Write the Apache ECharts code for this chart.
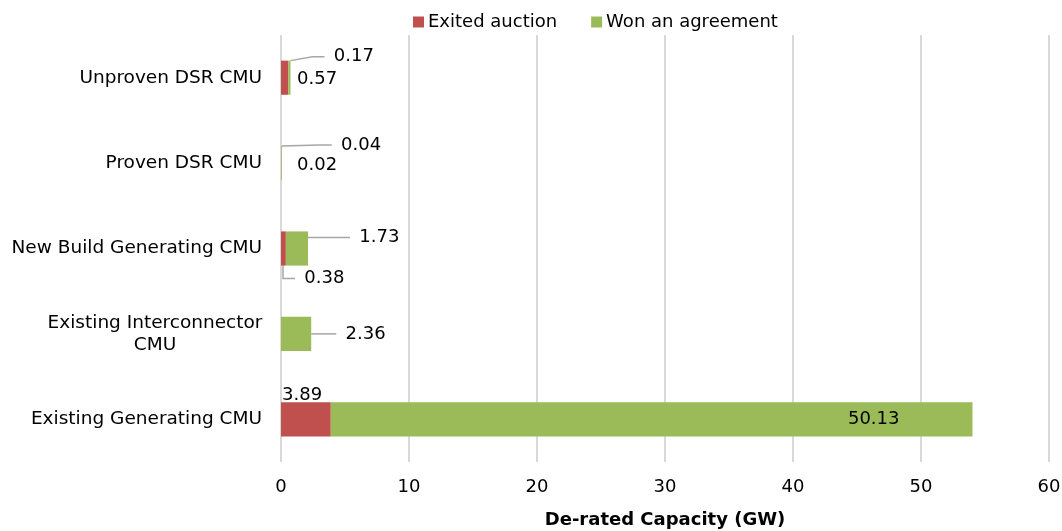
<!DOCTYPE html>
<html>
<head>
<meta charset="utf-8">
<script src="https://cdn.jsdelivr.net/npm/echarts@6/dist/echarts.min.js"></script>
<style>
  html, body { margin: 0; padding: 0; background: #fff; }
  #chart { width: 1062px; height: 531px; }
</style>
</head>
<body>
<div id="chart"></div>
<script>
// categories, bottom to top as drawn
var categories = [
  'Existing Generating CMU',
  'Existing Interconnector\nCMU',
  'New Build Generating CMU',
  'Proven DSR CMU',
  'Unproven DSR CMU'
];
var exitedAuction = [3.89, 0, 0.38, 0.02, 0.57];
var wonAgreement = [50.13, 2.36, 1.73, 0.04, 0.17];
var xTicks = [0, 10, 20, 30, 40, 50, 60];

var font = 'DejaVu Sans, Verdana, sans-serif';
var GAP_TEXT = ' \u2009'; // small gap between leader line end and label text
var GAP_PX = 9;

// where each value label sits, relative to its bar piece
// [dx from anchor, dy from bar middle, anchor ('start'|'end'), align, showLine]
var exitedLabelPos = [
  [1, -24, 'start', 'left', false],
  [0, 0, 'start', 'left', false],
  [23, 30, 'start', 'left', true],
  [16, 2, 'start', 'left', false],
  [16, 2, 'start', 'left', false]
];
var wonLabelPos = [
  [-73, 0, 'end', 'right', false],
  [34, 0, 'end', 'left', true],
  [51, -11, 'end', 'left', true],
  [59, -18, 'end', 'left', true],
  [43, -21, 'end', 'left', true]
];

function buildData(values, pos) {
  return values.map(function (v, i) {
    return {
      value: v,
      label: {
        formatter: v > 0 ? (pos[i][4] ? GAP_TEXT : '') + v : ''
      },
      labelLine: { show: pos[i][4] }
    };
  });
}

function layoutFor(pos) {
  return function (params) {
    var p = pos[params.dataIndex];
    if (!p) return {};
    var r = params.rect;
    var ax = p[2] === 'end' ? r.x + r.width : r.x;
    return {
      x: ax + p[0] - (p[4] ? GAP_PX : 0),
      y: r.y + r.height / 2 + p[1],
      align: p[3],
      verticalAlign: 'middle'
    };
  };
}

var lineStyle = { color: '#A6A6A6', width: 1.5 };

var chart = echarts.init(document.getElementById('chart'));
var option = {
  animation: false,
  textStyle: { fontFamily: font },
  legend: {
    left: 408,
    top: 8,
    itemWidth: 11,
    itemHeight: 11,
    itemGap: 34,
    icon: 'rect',
    textStyle: { fontFamily: font, fontSize: 18, color: '#000', padding: [0, 0, 0, -1] },
    data: ['Exited auction', 'Won an agreement']
  },
  grid: { left: 281, right: 13, top: 35, bottom: 69, containLabel: false, outerBoundsMode: 'none' },
  xAxis: {
    type: 'value',
    min: xTicks[0],
    max: xTicks[xTicks.length - 1],
    interval: 10,
    name: 'De-rated Capacity (GW)',
    nameLocation: 'middle',
    nameGap: 49,
    nameTextStyle: { fontFamily: font, fontSize: 18, fontWeight: 'bold', color: '#000' },
    axisLine: { show: false },
    axisTick: { show: false },
    axisLabel: { fontFamily: font, fontSize: 18, color: '#000', margin: 16 },
    splitLine: { show: true, lineStyle: { color: '#D9D9D9', width: 2 } }
  },
  yAxis: {
    type: 'category',
    data: categories,
    axisLine: { show: false },
    axisTick: { show: false },
    axisLabel: {
      fontFamily: font,
      fontSize: 18.5,
      color: '#000',
      margin: 19,
      lineHeight: 22,
      formatter: function (v) {
        if (v.indexOf('\n') < 0) return v;
        return v.split('\n').map(function (s) { return '{c|' + s + '}'; }).join('\n');
      },
      rich: {
        c: { width: 214, align: 'center', fontFamily: font, fontSize: 18.5, color: '#000', lineHeight: 22 }
      }
    }
  },
  series: [
    {
      name: 'Exited auction',
      type: 'bar',
      stack: 'total',
      barWidth: '40%',
      itemStyle: { color: '#C0504D' },
      label: { show: true, fontFamily: font, fontSize: 18, color: '#000' },
      labelLine: { show: true, length2: 12, lineStyle: lineStyle },
      labelLayout: layoutFor(exitedLabelPos),
      data: buildData(exitedAuction, exitedLabelPos)
    },
    {
      name: 'Won an agreement',
      type: 'bar',
      stack: 'total',
      barWidth: '40%',
      itemStyle: { color: '#9BBB59' },
      label: { show: true, fontFamily: font, fontSize: 18, color: '#000' },
      labelLine: { show: true, length2: 12, lineStyle: lineStyle },
      labelLayout: layoutFor(wonLabelPos),
      data: buildData(wonAgreement, wonLabelPos)
    }
  ]
};
chart.setOption(option);
</script>
</body>
</html>
